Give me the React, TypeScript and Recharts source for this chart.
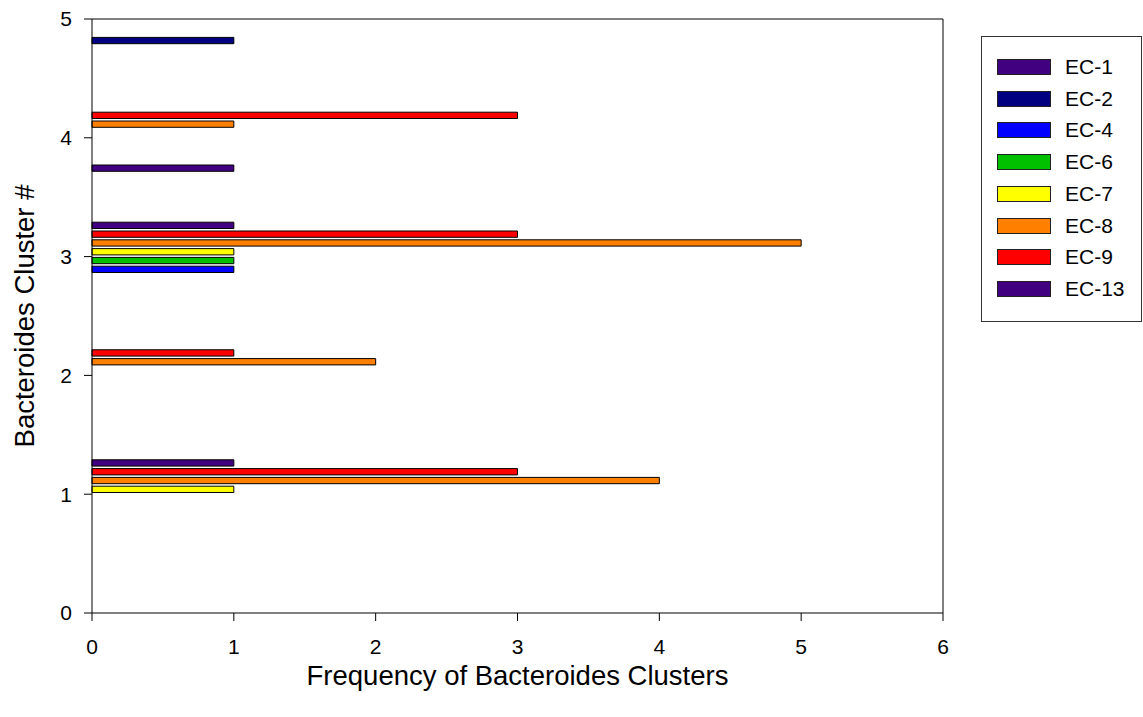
import React from "react"
import { BarChart, Bar, XAxis, YAxis, ReferenceLine } from "recharts"

// cluster numbers on the y axis
const clusters = [1, 2, 3, 4, 5]

// frequency of each EC strain per cluster (0 = no bar)
const ec1 = [0, 0, 0, 1, 0]
const ec2 = [0, 0, 0, 0, 1]
const ec4 = [0, 0, 1, 0, 0]
const ec6 = [0, 0, 1, 0, 0]
const ec7 = [1, 0, 1, 0, 0]
const ec8 = [4, 2, 5, 1, 0]
const ec9 = [3, 1, 3, 3, 0]
const ec13 = [1, 0, 1, 0, 0]

const xTicks = [0, 1, 2, 3, 4, 5, 6]
const yTicks = [0, 1, 2, 3, 4, 5]

const series = [
  { name: "EC-1", values: ec1, color: "#400080" },
  { name: "EC-2", values: ec2, color: "#000080" },
  { name: "EC-4", values: ec4, color: "#0000FF" },
  { name: "EC-6", values: ec6, color: "#00C000" },
  { name: "EC-7", values: ec7, color: "#FFFF00" },
  { name: "EC-8", values: ec8, color: "#FF8000" },
  { name: "EC-9", values: ec9, color: "#FF0000" },
  { name: "EC-13", values: ec13, color: "#400080" },
]

const rows = clusters.map((cluster, i) => {
  const row: Record<string, number | null> = { cluster }
  series.forEach((s) => {
    row[s.name] = s.values[i] ? s.values[i] : null
  })
  return row
})

const FONT = "'Liberation Sans', Arial, Helvetica, sans-serif"

const XTitle = ({ viewBox }: any) => (
  <text
    x={viewBox.x + viewBox.width / 2}
    y={viewBox.y + viewBox.height + 12}
    textAnchor="middle"
    fontSize={27.5}
    fill="#000"
  >
    Frequency of Bacteroides Clusters
  </text>
)

const YTitle = ({ viewBox }: any) => {
  const x = viewBox.x + 2
  const y = viewBox.y + viewBox.height / 2
  return (
    <text x={x} y={y} transform={`rotate(-90 ${x} ${y})`} textAnchor="middle" fontSize={27.5} fill="#000">
      Bacteroides Cluster #
    </text>
  )
}

export default function App() {
  return (
    <div style={{ position: "absolute", left: 0, top: 0, width: 1143, height: 717, fontFamily: FONT, background: "#fff" }}>
      <BarChart
        width={1143}
        height={717}
        data={rows}
        layout="vertical"
        margin={{ top: 19, right: 200, bottom: 44, left: 32 }}
        barSize={6.3}
        barGap={2.5}
      >
        <XAxis
          type="number"
          domain={[0, 6]}
          ticks={xTicks}
          height={60}
          tickSize={8}
          tickMargin={18}
          stroke="#000"
          tick={{ fill: "#000", fontSize: 21 }}
          label={{ content: XTitle }}
        />
        <YAxis
          type="number"
          dataKey="cluster"
          domain={[0, 5]}
          ticks={yTicks}
          reversed
          width={60}
          tickSize={8}
          tickMargin={12}
          stroke="#000"
          tick={{ fill: "#000", fontSize: 21 }}
          label={{ content: YTitle }}
        />
        <ReferenceLine y={5} stroke="#000" />
        <ReferenceLine x={6} stroke="#000" />
        {[...series].reverse().map((s) => (
          <Bar
            key={s.name}
            dataKey={s.name}
            fill={s.color}
            stroke="#000"
            strokeWidth={1}
            isAnimationActive={false}
          />
        ))}
      </BarChart>

      <div
        style={{
          position: "absolute",
          left: 981,
          top: 36,
          width: 161,
          height: 286,
          border: "1px solid #333",
          boxSizing: "border-box",
        }}
      >
        {series.map((s, i) => (
          <div key={s.name} style={{ position: "absolute", left: 15, top: 22 + i * 31.7, height: 16, display: "flex", alignItems: "center" }}>
            <span
              style={{
                display: "inline-block",
                width: 54,
                height: 16,
                background: s.color,
                border: "1px solid #222",
                boxSizing: "border-box",
              }}
            ></span>
            <span style={{ marginLeft: 14, fontSize: 21, color: "#000", lineHeight: "16px" }}>{s.name}</span>
          </div>
        ))}
      </div>
    </div>
  )
}
